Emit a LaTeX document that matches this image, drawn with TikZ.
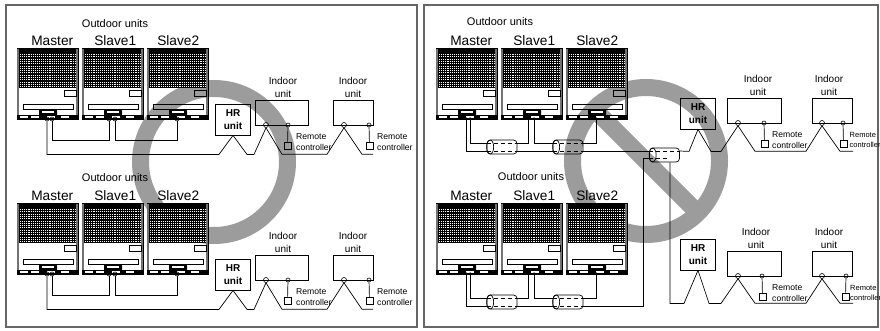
\documentclass[tikz,border=0pt]{standalone}
\usepackage{fontspec}
\setmainfont{Liberation Sans}
\usepackage{tikz}
\usetikzlibrary{positioning}
\definecolor{ringgrey}{HTML}{9C9C9C}
\definecolor{framegrey}{HTML}{666666}
\tikzset{
  panel/.style={draw=framegrey, line width=1.3pt},
  forbid/.style={draw=ringgrey, line width=17pt},
  odubody/.style={draw=black, line width=0.5pt, anchor=north west, minimum width=61pt, minimum height=71pt, inner sep=0pt},
  odulabel/.style={font=\fontsize{13.7}{15}\selectfont, inner sep=0pt},
  grouplabel/.style={font=\fontsize{11}{13}\selectfont, inner sep=0pt},
  grilledots/.style={white, line width=1pt, dash pattern=on 1.1pt off 1pt},
  hrbox/.style={draw=black, line width=0.8pt, align=center, font=\fontsize{10}{12.5}\selectfont\bfseries, minimum width=35pt, minimum height=31pt, inner sep=0pt},
  idubody/.style={draw=black, line width=0.8pt, anchor=north west, minimum height=24.5pt, inner sep=0pt},
  idulabel/.style={align=center, font=\fontsize{10}{13}\selectfont, inner sep=0pt},
  ctrllabel/.style={align=left, anchor=west, font=\fontsize{8.6}{10.5}\selectfont, inner sep=0pt},
  edgelabel/.style={ctrllabel/.append style={font=\fontsize{7.5}{10.5}\selectfont}},
  remote/.style={draw=black, line width=0.6pt, minimum size=7pt, inner sep=0pt},
  port/.style={circle, draw=black, line width=0.6pt, minimum size=5pt, inner sep=0pt},
  tinyport/.style={circle, draw=black, line width=0.6pt, minimum size=4pt, inner sep=0pt},
  pipedot/.style={circle, fill=black, minimum size=2.5pt, inner sep=0pt},
  pipe/.style={draw=black, line width=0.7pt},
  pipein/.style={draw=black, line width=0.7pt, dash pattern=on 4pt off 3pt},
  sleevebody/.style={draw=black, line width=0.7pt, rounded corners=3.5pt, minimum width=30pt, minimum height=14pt, inner sep=0pt}
}
% name, x, y, label, label offset
\newcommand{\outdoorunit}[5]{
  \node[odubody] (#1) at (#2,#3) {};
  \node[odulabel, above=2.5pt of #1, xshift=#5pt] (#1label) {#4};
  \begin{scope}[shift={(#1.north west)}]
    \fill[black, rounded corners=1pt] (0,5) -- (0,1) -- (61,1) -- (61,5) -- cycle;
    \fill[black] (2,5) rectangle (59,40);
    \foreach \r in {6.5,8.8,...,39} \draw[grilledots] (3,\r) -- (58,\r);
    \fill[black!55] (0,1) rectangle (2,67);
    \fill[black!55] (59,1) rectangle (61,67);
    \draw[black, line width=0.6pt] (47,42.5) rectangle (59,48);
    \draw[black, line width=0.8pt] (6,56) rectangle (56,61);
    \fill[black, rounded corners=1.5pt] (22,61) rectangle (40,68);
    \fill[white] (25,62.5) rectangle (37,65);
    \fill[black] (-0.5,67) rectangle (61.5,71);
    \foreach \s in {3,14,30,44} \fill[white] (\s,68) rectangle (\s+8,70);
  \end{scope}
}
% name, x, y, width, pipe port x, remote port x, remote box x, label x, text x
\newcommand{\indoorunit}[9]{
  \node[idubody, minimum width=#4pt] (#1) at (#2,#3) {};
  \node[idulabel, anchor=south] (#1label) at (#8,#3-2) {Indoor\\unit};
  \node[port] (#1a) at (#5,#3+25) {};
  \node[tinyport] (#1b) at (#6,#3+25) {};
  \node[remote] (#1rc) at (#7,#3+45.5) {};
  \node[ctrllabel] (#1text) at (#9,#3+42) {Remote\\controller};
  \draw[pipe] (#1b) -- (#1rc);
}
% name, x, y
\newcommand{\sleeve}[3]{
  \node[sleevebody] (#1) at (#2,#3) {};
  \draw[black, line width=0.7pt] (#1.west) ++(3.5,0) ellipse (3.5 and 7);
}
\begin{document}
\begin{tikzpicture}[x=1pt, y=-1pt]
  \useasboundingbox (0,0) rectangle (880,330);
  % prohibited signs, under everything else
  \draw[forbid] (214,162) circle (73.5);
  \draw[forbid] (646,161) circle (73.5);
  \draw[forbid] (646,161) ++(45:73.5) -- ++(225:147);
  % panels
  \draw[panel] (6,5) rectangle (417,327);
  \draw[panel] (424,5) rectangle (878,327);

  % left, upper system
  \node[grouplabel] (lugroup) at (115,23.5) {Outdoor units};
  \outdoorunit{lum}{17}{48}{Master}{4.5}
  \outdoorunit{lus}{82}{48}{Slave1}{2.5}
  \outdoorunit{lut}{147}{48}{Slave2}{0.5}
  \foreach \n/\x in {luma/47,lumb/52,lusa/109,lusb/115,luta/177} \node[tinyport] (\n) at (\x,119) {};
  \node[hrbox] (luhr) at (233,119.5) {HR\\unit};
  \indoorunit{lui}{255}{100}{53}{266}{288}{287.5}{283}{296}
  \indoorunit{luj}{333}{100}{40}{344}{369}{369.5}{353}{377}
  \draw[pipe] (lumb.south) -- ++(0,19) -| (lusa.south);
  \draw[pipe] (lusb.south) -- ++(0,19) -| (luta.south);
  \draw[pipe] (luhr.south) -- ++(-14,19) coordinate (luin) -- (luin -| luma.south) -- (luma.south);
  \draw[pipe] (luhr.south) -- ++(14,19) -- ++(7,0) -- (luia.south) -- ++(16,26.5) -- ++(45,0) -- (luja.south) -- ++(18,26.5) -- ++(11,0);

  % left, lower system
  \node[grouplabel] (llgroup) at (115,178) {Outdoor units};
  \outdoorunit{llm}{17}{203}{Master}{4.5}
  \outdoorunit{lls}{82}{203}{Slave1}{2.5}
  \outdoorunit{llt}{147}{203}{Slave2}{0.5}
  \foreach \n/\x in {llma/47,llmb/52,llsa/109,llsb/115,llta/177} \node[tinyport] (\n) at (\x,274) {};
  \node[hrbox] (llhr) at (233,274.5) {HR\\unit};
  \indoorunit{lli}{255}{255}{53}{266}{288}{287.5}{283}{296}
  \indoorunit{llj}{333}{255}{40}{344}{369}{369.5}{353}{377}
  \draw[pipe] (llmb.south) -- ++(0,19) -| (llsa.south);
  \draw[pipe] (llsb.south) -- ++(0,19) -| (llta.south);
  \draw[pipe] (llhr.south) -- ++(-14,19) coordinate (llin) -- (llin -| llma.south) -- (llma.south);
  \draw[pipe] (llhr.south) -- ++(14,19) -- ++(7,0) -- (llia.south) -- ++(16,26.5) -- ++(45,0) -- (llja.south) -- ++(18,26.5) -- ++(11,0);

  % right, upper system
  \node[grouplabel] (rugroup) at (500,21.5) {Outdoor units};
  \outdoorunit{rum}{436}{48}{Master}{4.5}
  \outdoorunit{rus}{501}{48}{Slave1}{2.5}
  \outdoorunit{rut}{566}{48}{Slave2}{0.5}
  \foreach \n/\x in {ruma/466,rumb/470,rusa/528,rusb/534,ruta/596} \node[pipedot] (\n) at (\x,118.5) {};
  \sleeve{rua}{502}{147}
  \sleeve{rub}{568}{147}
  \sleeve{ruc}{664.5}{155}
  \node[hrbox] (ruhr) at (698,113.5) {HR\\unit};
  \indoorunit{rui}{727}{98}{54}{738}{764}{764.5}{758}{772}
  \begin{scope}[edgelabel]
    \indoorunit{ruj}{812}{98}{40}{822}{843}{843.5}{829}{849.5}
  \end{scope}
  \draw[pipe] (rumb.south) |- ([yshift=4pt]rua.west);
  \draw[pipein] ([yshift=4pt]rua.west) -- ([yshift=4pt]rua.east);
  \draw[pipe] ([yshift=4pt]rua.east) -| (rusa.south);
  \draw[pipe] (rusb.south) |- ([yshift=4pt]rub.west);
  \draw[pipein] ([yshift=4pt]rub.west) -- ([yshift=4pt]rub.east);
  \draw[pipe] ([yshift=4pt]rub.east) -| (ruta.south);
  \draw[pipe] (ruma.south) |- ([yshift=-4pt]rua.west);
  \draw[pipein] ([yshift=-4pt]rua.west) -- ([yshift=-4pt]rua.east);
  \draw[pipe] ([yshift=-4pt]rua.east) -- ([yshift=-4pt]rub.west);
  \draw[pipein] ([yshift=-4pt]rub.west) -- ([yshift=-4pt]rub.east);
  \draw[pipe] ([yshift=-4pt]rub.east) -- ([yshift=4pt]ruc.west);
  \draw[pipein] ([yshift=4pt]ruc.west) -- ([yshift=4pt]ruc.east);
  \draw[pipe] (ruhr.south) -- ++(-9,22) coordinate (ruin) -- ([yshift=4pt]ruc.east);
  \draw[pipe] (ruhr.south) -- ++(13,22) -- ++(10,0) -- (ruia.south) -- ++(17,25.5) -- ++(51,0) -- (ruja.south) -- ++(18,25.5) -- ++(13,0);

  % right, lower system
  \node[grouplabel] (rlgroup) at (531,176.5) {Outdoor units};
  \outdoorunit{rlm}{436}{203}{Master}{4.5}
  \outdoorunit{rls}{501}{203}{Slave1}{2.5}
  \outdoorunit{rlt}{566}{203}{Slave2}{0.5}
  \foreach \n/\x in {rlma/466,rlmb/470,rlsa/528,rlsb/534,rlta/596} \node[pipedot] (\n) at (\x,273.5) {};
  \sleeve{rla}{502}{302}
  \sleeve{rlb}{568}{302}
  \node[hrbox] (rlhr) at (698,254.5) {HR\\unit};
  \indoorunit{rli}{727}{251}{54}{738}{762}{762.5}{756}{772}
  \begin{scope}[edgelabel]
    \indoorunit{rlj}{812}{251}{40}{822}{846}{845.5}{829}{850}
  \end{scope}
  \draw[pipe] (rlmb.south) |- ([yshift=4pt]rla.west);
  \draw[pipein] ([yshift=4pt]rla.west) -- ([yshift=4pt]rla.east);
  \draw[pipe] ([yshift=4pt]rla.east) -| (rlsa.south);
  \draw[pipe] (rlsb.south) |- ([yshift=4pt]rlb.west);
  \draw[pipein] ([yshift=4pt]rlb.west) -- ([yshift=4pt]rlb.east);
  \draw[pipe] ([yshift=4pt]rlb.east) -| (rlta.south);
  \draw[pipe] (rlma.south) |- ([yshift=-4pt]rla.west);
  \draw[pipein] ([yshift=-4pt]rla.west) -- ([yshift=-4pt]rla.east);
  \draw[pipe] ([yshift=-4pt]rla.east) -- ([yshift=-4pt]rlb.west);
  \draw[pipein] ([yshift=-4pt]rlb.west) -- ([yshift=-4pt]rlb.east);
  % link between the two outdoor groups
  \coordinate (rdrop) at (643,306);
  \draw[pipe] ([yshift=-3pt]ruc.west) -| (rdrop) -- ([yshift=-4pt]rlb.east);
  \draw[pipein] ([yshift=-3pt]ruc.west) -- ++(20,0);
  \draw[pipe] (rlhr.south) -- ++(-14,33) coordinate (rlin) -| ([xshift=5.5pt]ruc.south);
  \draw[pipe] (rlhr.south) -- ++(11,33) -- ++(12,0) -- (rlia.south) -- ++(17,24.5) -- ++(51,0) -- (rlja.south) -- ++(18,24.5) -- ++(13,0);
\end{tikzpicture}
\end{document}
